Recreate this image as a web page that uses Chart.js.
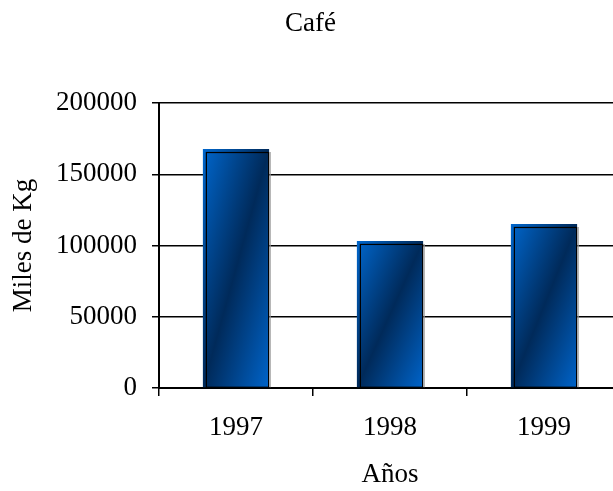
<!DOCTYPE html>
<html>
<head>
<meta charset="utf-8">
<script src="https://cdn.jsdelivr.net/npm/chart.js@4"></script>
<style>
  html, body { margin: 0; padding: 0; background: #fff; overflow: hidden; }
  #wrap { position: relative; width: 626px; height: 491px; }
</style>
</head>
<body>
<div id="wrap"><canvas id="chart-cafe"></canvas></div>
<script>
// data
const years = ["1997", "1998", "1999"];
const milesKg = [167700, 103200, 115100];
const yTicks = [0, 50000, 100000, 150000, 200000];

const serif = "'Liberation Serif', 'Times New Roman', serif";
const barShare = 0.43;

// diagonal dark band across each bar, built from the scales
function barGradient(c) {
  const chart = c.chart;
  const xs = chart.scales.x;
  const ys = chart.scales.y;
  if (c.type !== "data" || !xs || !ys || !xs.width) return "#0058b4";
  const w = (xs.width / years.length) * barShare;
  const cx = xs.getPixelForValue(c.dataIndex);
  const top = ys.getPixelForValue(milesKg[c.dataIndex]);
  const bottom = ys.getPixelForValue(0);
  const h = bottom - top;
  const cy = (top + bottom) / 2;
  const k = (w * h) / (w * w + h * h);
  const g = chart.ctx.createLinearGradient(cx - k * h, cy - k * w, cx + k * h, cy + k * w);
  g.addColorStop(0, "#0066cc");
  g.addColorStop(0.5, "#002a5a");
  g.addColorStop(1, "#0064ca");
  return g;
}

// thin black outline with a grey edge, offset a little like the original
const barOutline = {
  id: "barOutline",
  afterDatasetsDraw(chart) {
    const ctx = chart.ctx;
    chart.getDatasetMeta(0).data.forEach(function (bar) {
      const p = bar.getProps(["x", "y", "base", "width"], true);
      const l = p.x - p.width / 2, r = p.x + p.width / 2;
      ctx.save();
      ctx.strokeStyle = "#000";
      ctx.lineWidth = 1.2;
      ctx.strokeRect(l + 3.5, p.y + 3.5, r - l - 4, p.base - p.y - 3.5);
      ctx.strokeStyle = "#9a9a9a";
      ctx.beginPath();
      ctx.moveTo(r + 1, p.y + 3);
      ctx.lineTo(r + 1, p.base);
      ctx.stroke();
      ctx.restore();
    });
  },
};

new Chart(document.getElementById("chart-cafe").getContext("2d"), {
  type: "bar",
  data: {
    labels: years,
    datasets: [
      {
        label: "Miles de Kg",
        data: milesKg,
        backgroundColor: barGradient,
        borderWidth: 0,
        categoryPercentage: 1,
        barPercentage: barShare,
      },
    ],
  },
  plugins: [barOutline],
  options: {
    responsive: true,
    maintainAspectRatio: false,
    animation: false,
    layout: { padding: { top: 0, left: 0, right: 5, bottom: 0 } },
    plugins: {
      legend: { display: false },
      tooltip: { enabled: false },
      title: {
        display: true,
        text: "Café",
        color: "#000",
        font: { family: serif, size: 27, weight: "normal", lineHeight: 1.2 },
        padding: { top: 8, bottom: 62.6 },
      },
    },
    scales: {
      x: {
        afterFit: function (scale) { scale.height = 103; },
        grid: {
          display: true,
          offset: true,
          drawOnChartArea: false,
          drawTicks: true,
          tickLength: 8,
          color: "#000",
          lineWidth: 1.5,
        },
        border: { color: "#000", width: 2 },
        ticks: {
          color: "#000",
          padding: 16,
          font: { family: serif, size: 27 },
        },
        title: {
          display: true,
          text: "Años",
          color: "#000",
          font: { family: serif, size: 27, lineHeight: 1.2 },
          padding: { top: 0, bottom: 0 },
        },
      },
      y: {
        min: 0,
        max: 200000,
        afterFit: function (scale) { scale.width = 159; },
        afterBuildTicks: function (scale) {
          scale.ticks = yTicks.map(function (v) { return { value: v }; });
        },
        grid: {
          display: true,
          drawOnChartArea: true,
          drawTicks: true,
          tickLength: 7,
          color: "#000",
          lineWidth: 1.5,
        },
        border: { color: "#000", width: 2 },
        ticks: {
          color: "#000",
          padding: 15,
          font: { family: serif, size: 27 },
          callback: function (v) { return String(v); },
        },
        title: {
          display: true,
          text: "Miles de Kg",
          color: "#000",
          font: { family: serif, size: 27, lineHeight: 1.2 },
          padding: { top: 8, bottom: 0 },
        },
      },
    },
  },
});
</script>
</body>
</html>
